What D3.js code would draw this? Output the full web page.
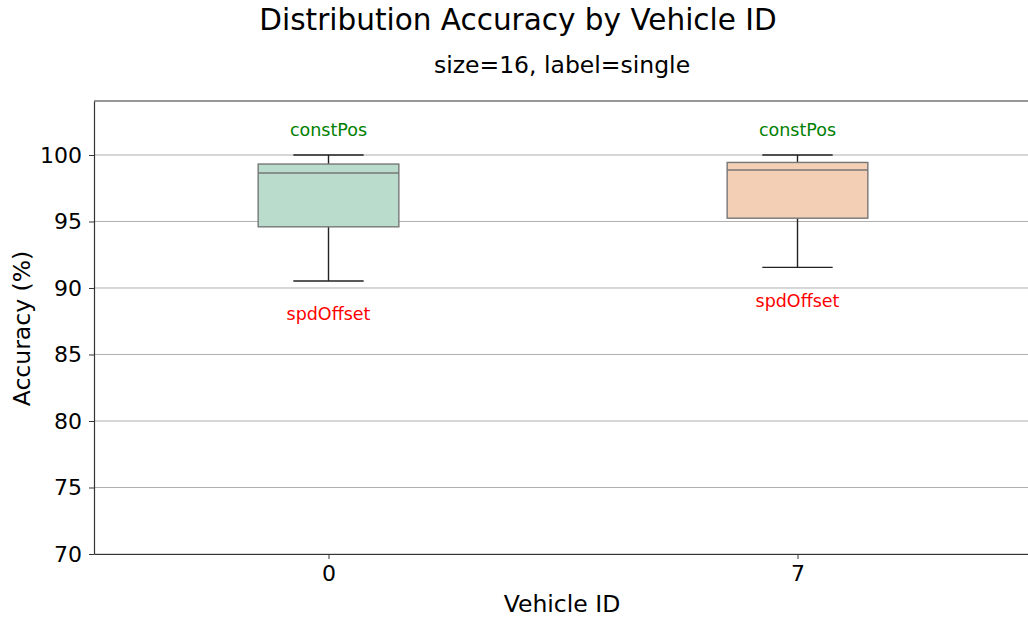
<!DOCTYPE html>
<html lang="en">
<head>
<meta charset="utf-8">
<title>Distribution Accuracy by Vehicle ID</title>
<script src="https://d3js.org/d3.v7.min.js"></script>
<style>
  body { margin: 0; background: #fff; }
  text { font-family: "DejaVu Sans", sans-serif; }
</style>
</head>
<body>
<script>
// data
const vehicles = ["0", "7"];
const whiskerLow = [90.53, 91.55];
const q1 = [94.6, 95.25];
const median = [98.65, 98.87];
const q3 = [99.32, 99.44];
const whiskerHigh = [100, 100];
const fills = ["#b9dccc", "#f3cfb5"];
const yTicks = [70, 75, 80, 85, 90, 95, 100];

const width = 1028, height = 619;
// the axes run a little past the right edge of the figure
const plotLeft = 94, plotRight = 1032, plotTop = 101, plotBottom = 554;

const svg = d3.select("body").append("svg")
  .attr("width", width).attr("height", height);

// x: positions 1..n, xlim [0.5, n+0.5]
const x = d3.scaleLinear().domain([0.5, vehicles.length + 0.5]).range([plotLeft, plotRight]);
const y = d3.scaleLinear().domain([70, 104.06]).range([plotBottom, plotTop]);
const boxW = x(1.15) - x(0.85);

// grid
svg.append("g").selectAll("line").data(yTicks).join("line")
  .attr("x1", plotLeft).attr("x2", plotRight)
  .attr("y1", d => y(d)).attr("y2", d => y(d))
  .attr("stroke", "#b0b0b0").attr("stroke-width", 1);

// boxes
const g = svg.append("g");
vehicles.forEach((v, i) => {
  const cx = x(i + 1);
  // whiskers
  g.append("line").attr("x1", cx).attr("x2", cx)
    .attr("y1", y(q1[i])).attr("y2", y(whiskerLow[i]))
    .attr("stroke", "#222").attr("stroke-width", 1.4);
  g.append("line").attr("x1", cx).attr("x2", cx)
    .attr("y1", y(q3[i])).attr("y2", y(whiskerHigh[i]))
    .attr("stroke", "#222").attr("stroke-width", 1.4);
  [whiskerLow[i], whiskerHigh[i]].forEach(w => {
    g.append("line").attr("x1", cx - boxW / 4).attr("x2", cx + boxW / 4)
      .attr("y1", y(w)).attr("y2", y(w))
      .attr("stroke", "#222").attr("stroke-width", 1.4);
  });
  g.append("rect")
    .attr("x", cx - boxW / 2).attr("y", y(q3[i]))
    .attr("width", boxW).attr("height", y(q1[i]) - y(q3[i]))
    .attr("fill", fills[i]).attr("stroke", "#777").attr("stroke-width", 1.4);
  g.append("line").attr("x1", cx - boxW / 2).attr("x2", cx + boxW / 2)
    .attr("y1", y(median[i])).attr("y2", y(median[i]))
    .attr("stroke", "#777").attr("stroke-width", 1.4);

  // annotations
  g.append("text").attr("x", cx).attr("y", y(whiskerHigh[i] + 1.9))
    .attr("text-anchor", "middle").attr("dominant-baseline", "central")
    .attr("font-size", 17.5).attr("fill", "green").text("constPos");
  g.append("text").attr("x", cx).attr("y", y(whiskerLow[i] - 2.5))
    .attr("text-anchor", "middle").attr("dominant-baseline", "central")
    .attr("font-size", 17.5).attr("fill", "red").text("spdOffset");
});

// axes
const yAxis = svg.append("g").attr("transform", `translate(${plotLeft},0)`)
  .call(d3.axisLeft(y).tickValues(yTicks).tickSize(5).tickSizeOuter(0).tickPadding(7));
const xAxis = svg.append("g").attr("transform", `translate(0,${plotBottom})`)
  .call(d3.axisBottom(x).tickValues(d3.range(1, vehicles.length + 1))
    .tickFormat(d => vehicles[d - 1]).tickSize(5).tickSizeOuter(0).tickPadding(6));
[yAxis, xAxis].forEach(a => {
  a.selectAll("text").attr("font-size", 22).attr("fill", "#000")
    .attr("font-family", "DejaVu Sans, sans-serif");
  a.selectAll("line").attr("stroke", "#333");
  a.select(".domain").attr("stroke", "#333").attr("stroke-width", 1.2);
});

// top spine
svg.append("line").attr("x1", plotLeft).attr("x2", plotRight).attr("y1", plotTop).attr("y2", plotTop)
  .attr("stroke", "#333").attr("stroke-width", 1.2);

// titles
svg.append("text").attr("x", 518).attr("y", 30).attr("text-anchor", "middle")
  .attr("font-size", 29.5).text("Distribution Accuracy by Vehicle ID");
svg.append("text").attr("x", 562).attr("y", 73).attr("text-anchor", "middle")
  .attr("font-size", 23.5).text("size=16, label=single");
svg.append("text").attr("x", 562).attr("y", 612).attr("text-anchor", "middle")
  .attr("font-size", 23.5).text("Vehicle ID");
svg.append("text").attr("transform", `translate(22,${(plotTop + plotBottom) / 2 + 1}) rotate(-90)`)
  .attr("text-anchor", "middle").attr("dominant-baseline", "central")
  .attr("font-size", 23.5).text("Accuracy (%)");
</script>
</body>
</html>
